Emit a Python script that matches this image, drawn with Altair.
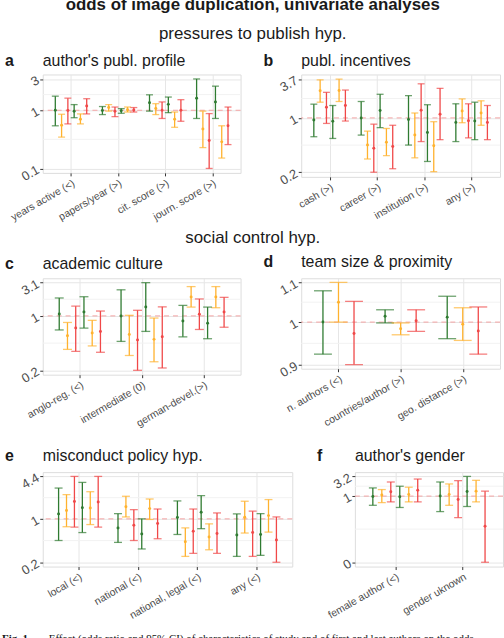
import math
import altair as alt
import pandas as pd

# ---- series (three data sets x first / last author) ----
SERIES6 = ["first author A", "first author B", "first author C",
           "last author A", "last author B", "last author C"]
COLORS6 = ["#2f7b31", "#ffb22e", "#f04848", "#2f7b31", "#ffb22e", "#f04848"]
SERIES3 = ["A", "B", "C"]
COLORS3 = ["#2f7b31", "#ffb22e", "#f04848"]

# ---- a: author's publication profile ----
cats_a = ["years active (<)", "papers/year (>)", "cit. score (>)", "journ. score (>)"]
est_a = [1.00, 0.59, 0.99, 0.97, 0.73, 1.16,
         0.99, 1.10, 0.97, 0.98, 1.02, 1.01,
         1.30, 1.06, 1.00, 1.23, 0.73, 1.00,
         1.53, 0.52, 0.345, 1.34, 0.33, 0.58]
lo_a = [0.58, 0.39, 0.62, 0.77, 0.62, 0.88,
        0.86, 0.97, 0.80, 0.90, 0.94, 0.94,
        0.97, 0.86, 0.75, 0.92, 0.55, 0.68,
        0.75, 0.27, 0.13, 0.75, 0.187, 0.30]
hi_a = [1.64, 0.87, 1.53, 1.22, 0.88, 1.50,
        1.14, 1.22, 1.12, 1.06, 1.12, 1.10,
        1.72, 1.26, 1.34, 1.59, 0.94, 1.45,
        3.00, 0.97, 0.89, 2.33, 0.58, 1.12]

# ---- b: publication incentives ----
cats_b = ["cash (>)", "career (>)", "institution (>)", "any (>)"]
est_b = [0.93, 2.50, 1.43, 0.89, 2.53, 1.52,
         1.00, 0.40, 0.36, 1.28, 0.44, 0.38,
         0.95, 0.56, 1.29, 0.61, 0.39, 1.13,
         0.86, 1.26, 0.91, 0.90, 1.18, 0.86]
lo_b = [0.53, 1.70, 0.83, 0.50, 1.74, 0.90,
        0.56, 0.25, 0.16, 0.72, 0.28, 0.18,
        0.40, 0.26, 0.45, 0.23, 0.163, 0.48,
        0.45, 0.85, 0.51, 0.48, 0.78, 0.48]
hi_b = [1.59, 3.61, 2.37, 1.52, 3.70, 2.56,
        1.74, 0.64, 0.81, 2.22, 0.70, 0.78,
        2.12, 1.18, 3.16, 1.56, 0.88, 2.71,
        1.61, 1.90, 1.61, 1.70, 1.78, 1.52]

# ---- c: academic culture ----
cats_c = ["anglo-reg. (<)", "intermediate (0)", "german-devel.(>)"]
est_c = [1.07, 0.51, 0.66, 1.14, 0.56, 0.59,
         1.00, 0.53, 0.44, 1.35, 0.45, 0.49,
         0.84, 1.90, 1.06, 0.78, 1.90, 1.14]
lo_c = [0.62, 0.32, 0.30, 0.66, 0.36, 0.29,
        0.42, 0.26, 0.157, 0.59, 0.21, 0.17,
        0.49, 1.35, 0.63, 0.46, 1.32, 0.68]
hi_c = [1.84, 0.80, 1.39, 1.92, 0.86, 1.18,
        2.43, 1.02, 1.21, 3.10, 0.93, 1.36,
        1.43, 2.71, 1.78, 1.35, 2.71, 1.88]

# ---- d: team size & proximity ----
cats_d = ["n. authors (<)", "countries/author (>)", "geo. distance (>)"]
est_d = [1.000, 1.049, 0.973, 1.014, 0.984, 1.003, 1.012, 0.995, 0.979]
lo_d = [0.926, 1.000, 0.903, 0.998, 0.970, 0.978, 0.961, 0.957, 0.926]
hi_d = [1.078, 1.100, 1.051, 1.030, 0.998, 1.030, 1.064, 1.035, 1.037]

# ---- e: misconduct policy ----
cats_e = ["local (<)", "national (<)", "national, legal (<)", "any (<)"]
est_e = [1.19, 1.34, 1.83, 1.48, 1.46, 1.80,
         0.73, 1.53, 0.80, 0.59, 1.43, 0.85,
         1.05, 0.45, 0.65, 1.26, 0.53, 0.60,
         0.57, 1.06, 0.62, 0.58, 1.12, 0.48]
lo_e = [0.47, 0.76, 0.75, 0.62, 0.82, 0.75,
        0.44, 1.07, 0.47, 0.35, 0.98, 0.50,
        0.58, 0.27, 0.30, 0.71, 0.34, 0.30,
        0.27, 0.61, 0.27, 0.28, 0.63, 0.22]
hi_e = [2.93, 2.33, 4.40, 3.57, 2.58, 4.40,
        1.20, 2.20, 1.38, 1.00, 2.00, 1.41,
        1.87, 0.73, 1.41, 2.25, 0.84, 1.23,
        1.19, 1.85, 1.31, 1.20, 1.96, 1.07]

# ---- f: author's gender ----
cats_f = ["female author (<)", "gender uknown"]
est_f = [0.98, 1.06, 1.29, 0.96, 1.10, 1.42,
         1.00, 1.10, 0.82, 1.31, 1.34, 0.168]
lo_f = [0.58, 0.68, 0.71, 0.51, 0.71, 0.71,
        0.40, 0.58, 0.28, 0.54, 0.71, 0.020]
hi_f = [1.62, 1.47, 2.30, 1.79, 1.69, 2.74,
        2.30, 2.05, 2.49, 3.20, 2.54, 1.34]

FONT = "Liberation Sans"
TEXT = "#1a1a1a"
AXIS_TXT = "#4d4d4d"
GRID = "#e6e6e6"
MINOR = "#f2f2f2"


def panel(letter, title, cats, series, colors, est, lo, hi,
          width, height, cap, dodge, title_y=-9):
    # dodge the series side by side around each category position (1..n)
    nser = len(series)
    rows = []
    k = 0
    for i, c in enumerate(cats):
        for j, s in enumerate(series):
            rows.append({"cat": c, "series": s,
                         "pos": i + 1 + (j - (nser - 1) / 2) * dodge / nser,
                         "est": est[k], "lo": lo[k], "hi": hi[k]})
            k += 1
    df = pd.DataFrame(rows)

    ymin, ymax = min(lo), max(hi)
    l0, l1 = math.log10(ymin), math.log10(ymax)
    pad = 0.05 * (l1 - l0)
    yscale = alt.Scale(type="log", domain=[10 ** (l0 - pad), 10 ** (l1 + pad)],
                       nice=False, zero=False)
    ticks = [ymin, 1, ymax]
    minor = [math.sqrt(ymin), math.sqrt(ymax)]

    n = len(cats)
    xscale = alt.Scale(domain=[0.4, n + 0.6], nice=False, zero=False)
    names = "[" + ", ".join("'" + c + "'" for c in cats) + "]"
    color = alt.Color("series:N", scale=alt.Scale(domain=series, range=colors),
                      legend=None)

    xaxis = alt.Axis(title=None, values=list(range(1, n + 1)),
                     labelExpr=names + "[round(datum.value) - 1]",
                     labelAngle=-30, labelAlign="right",
                     labelBaseline="top", labelFontSize=10.5,
                     labelColor=AXIS_TXT, labelFont=FONT, tickColor="#333",
                     tickSize=3, domain=False, grid=True, gridColor=GRID,
                     labelPadding=2, labelFlush=False, labelOverlap=False)
    yaxis = alt.Axis(title=None, values=ticks,
                     labelExpr="format(round(datum.value * 10) / 10, '~g')",
                     labelAngle=-30, labelAlign="right", labelBaseline="middle",
                     labelFontSize=13, labelColor=AXIS_TXT, labelFont=FONT,
                     tickColor="#333", tickSize=3, domain=False, grid=True,
                     gridColor=GRID, labelPadding=2, labelFlush=False,
                     labelOverlap=False)

    base = alt.Chart(df)
    X = alt.X("pos:Q", scale=xscale, axis=xaxis)

    minor_grid = alt.Chart(pd.DataFrame({"v": minor})).mark_rule(
        color=MINOR, strokeWidth=1).encode(
        y=alt.Y("v:Q", scale=yscale, axis=yaxis))

    ref = alt.Chart(pd.DataFrame({"v": [1]})).mark_rule(
        color="#f4a3a3", strokeDash=[5, 4], strokeWidth=1).encode(
        y=alt.Y("v:Q", scale=yscale))

    bars = base.mark_rule(strokeWidth=1.3).encode(
        x=X, y=alt.Y("lo:Q", scale=yscale), y2="hi:Q", color=color)

    cap_lo = base.mark_tick(size=cap, thickness=1.3, orient="horizontal").encode(
        x=X, y=alt.Y("lo:Q", scale=yscale), color=color)
    cap_hi = base.mark_tick(size=cap, thickness=1.3, orient="horizontal").encode(
        x=X, y=alt.Y("hi:Q", scale=yscale), color=color)

    pts = base.mark_circle(size=9, opacity=1).encode(
        x=X, y=alt.Y("est:Q", scale=yscale), color=color)

    # panel letter and panel heading
    tag = alt.Chart(pd.DataFrame({"t": [letter]})).mark_text(
        font=FONT, fontSize=16, fontWeight="bold", color=TEXT,
        align="left", baseline="alphabetic").encode(
        text="t:N", x=alt.value(-38), y=alt.value(title_y))
    head = alt.Chart(pd.DataFrame({"t": [title]})).mark_text(
        font=FONT, fontSize=16, color=TEXT,
        align="left", baseline="alphabetic").encode(
        text="t:N", x=alt.value(0), y=alt.value(title_y))

    return alt.layer(minor_grid, ref, bars, cap_lo, cap_hi, pts, tag, head
                     ).properties(width=width, height=height)


pa = panel("a", "author's publ. profile", cats_a, SERIES6, COLORS6,
           est_a, lo_a, hi_a, 199, 99, 7, 0.8)
pb = panel("b", "publ. incentives", cats_b, SERIES6, COLORS6,
           est_b, lo_b, hi_b, 200, 103, 7, 0.8)
pc = panel("c", "academic culture", cats_c, SERIES6, COLORS6,
           est_c, lo_c, hi_c, 199, 97, 9, 0.8)
pd_ = panel("d", "team size & proximity", cats_d, SERIES3, COLORS3,
            est_d, lo_d, hi_d, 200, 91, 18, 0.75, title_y=-11)
pe = panel("e", "misconduct policy hyp.", cats_e, SERIES6, COLORS6,
           est_e, lo_e, hi_e, 251, 95, 8, 0.8, title_y=-11)
pf = panel("f", "author's gender", cats_f, SERIES6, COLORS6,
           est_f, lo_f, hi_f, 149, 95, 8, 0.8, title_y=-11)

row1 = alt.hconcat(pa, pb, spacing=21,
                   title=alt.TitleParams("pressures to publish hyp.",
                                         anchor="middle", font=FONT, fontSize=17,
                                         fontWeight="normal", color=TEXT,
                                         offset=9))
row2 = alt.hconcat(pc, pd_, spacing=21,
                   title=alt.TitleParams("social control hyp.",
                                         anchor="middle", font=FONT, fontSize=17,
                                         fontWeight="normal", color=TEXT,
                                         offset=7))
row3 = alt.hconcat(pe, pf, spacing=23)

# figure caption under the panels
caption_df = pd.DataFrame({"t": ["Fig. 1"]})
caption_df2 = pd.DataFrame(
    {"t": ["Effect (odds ratio and 95% CI) of characteristics of study and "
           "of first and last authors on the odds"]})
cap1 = alt.Chart(caption_df).mark_text(
    font="Liberation Serif", fontSize=11, fontWeight="bold", color="#111",
    align="left", baseline="alphabetic").encode(
    text="t:N", x=alt.value(-41), y=alt.value(0))
cap2 = alt.Chart(caption_df2).mark_text(
    font="Liberation Serif", fontSize=11, color="#111",
    align="left", baseline="alphabetic").encode(
    text="t:N", x=alt.value(6), y=alt.value(0))
caption = alt.layer(cap1, cap2).properties(
    width=1, height=1, view=alt.ViewBackground(stroke="transparent"))

upper = alt.vconcat(row1, row2, spacing=5)
lower = alt.vconcat(row3, caption, spacing=10)
chart = alt.vconcat(
    upper, lower, spacing=18,
    title=alt.TitleParams("odds of image duplication, univariate analyses",
                          anchor="middle", font=FONT, fontSize=17,
                          fontWeight="bold", color=TEXT, offset=11),
).properties(
    padding={"left": 1, "top": -6, "right": 0, "bottom": 0},
).configure_view(
    stroke="#7a7a7a", strokeWidth=1,
).configure(background="white")

chart.save("out.html", embed_options={"renderer": "svg", "actions": False})
